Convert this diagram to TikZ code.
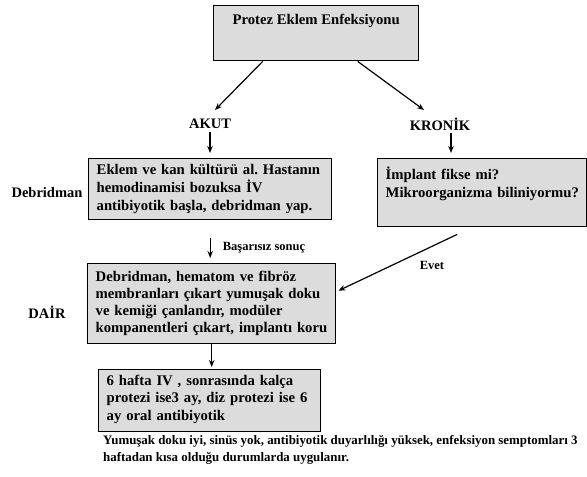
\documentclass[tikz,border=0pt]{standalone}
\usepackage{fontspec}
\setmainfont{Liberation Serif}
\usetikzlibrary{arrows.meta}
\frenchspacing
\definecolor{boxgray}{RGB}{220,220,220}
\newcommand{\boxfont}{\fontsize{14.7}{18}\selectfont\bfseries}
\newcommand{\boxfontb}{\fontsize{14.7}{17}\selectfont\bfseries}
\newcommand{\boxfontc}{\fontsize{14.7}{17.5}\selectfont\bfseries}
\newcommand{\lblfont}{\fontsize{14.5}{18}\selectfont\bfseries}
\newcommand{\smallfont}{\fontsize{12.5}{15}\selectfont\bfseries}
\newcommand{\notefont}{\fontsize{12.9}{17}\selectfont\bfseries}
\begin{document}
\begin{tikzpicture}[x=1pt,y=-1pt,
  box/.style={draw=black, line width=1.4pt, fill=boxgray, anchor=north west,
    inner xsep=8pt, inner ysep=0pt, align=left, font=\boxfont},
  lbl/.style={font=\lblfont, inner sep=3pt},
  small/.style={font=\smallfont, inner sep=2pt},
  arr/.style={line width=1.2pt, -{Stealth[length=7pt,width=5.5pt]}}]
\useasboundingbox (0,0) rectangle (587,477);

% boxes
\node[box, minimum width=205pt, minimum height=55pt, text height=10pt, text depth=27pt] (top) at (213,5) {Protez Eklem Enfeksiyonu};
\node[box, text width=227pt, minimum width=243pt, minimum height=61pt] (b2) at (88,158)
  {Eklem ve kan kültürü al. Hastanın\\hemodinamisi bozuksa İV\\antibiyotik başla, debridman yap.};
\node[box, text width=193pt, minimum width=209pt, minimum height=68pt] (b3) at (377,158)
  {\mbox{İmplant fikse mi?}\\\mbox{Mikroorganizma biliniyormu?}\\[3pt]\mbox{}};
\node[box, font=\boxfontb, text width=232pt, minimum width=248pt, minimum height=80pt] (b4) at (87,263)
  {Debridman, hematom ve fibröz\\membranları çıkart yumuşak doku\\ve kemiği çanlandır, modüler\\kompanentleri çıkart, implantı koru};
\node[box, font=\boxfontc, text width=206pt, minimum width=222pt, minimum height=62pt] (b5) at (98,369)
  {\mbox{}\\[-10pt]6 hafta IV , sonrasında kalça\\protezi ise3 ay, diz protezi ise 6\\ay oral antibiyotik};

% labels
\node[lbl] (akut) at (210,124) {AKUT};
\node[lbl] (kronik) at (440,124) {KRONİK};
\node[lbl] (debr) at (47,193) {Debridman};
\node[lbl] (dair) at (47,312) {DAİR};
\node[small] (bas) at (264,248) {Başarısız sonuç};
\node[small] (evet) at (432,265) {Evet};
\node[anchor=north west, align=left, inner sep=0pt, font=\notefont] (note) at (103,435)
  {Yumuşak doku iyi, sinüs yok, antibiyotik duyarlılığı yüksek, enfeksiyon semptomları 3\\haftadan kısa olduğu durumlarda uygulanır.};

% connectors
\draw[arr] ([xshift=-53.5pt]top.south) -- ([shift={(5,-14)}]akut.center);
\draw[arr] ([xshift=41.5pt]top.south) -- ([shift={(-16,-14)}]kronik.center);
\draw[arr, shorten >=5pt] (akut.south) -- (akut.south |- b2.north);
\draw[arr, shorten >=5pt] ([xshift=11pt]kronik.south) -- ([xshift=11pt]kronik.south |- b3.north);
\draw[arr, shorten <=18pt, shorten >=5pt] (b2.south) -- (b2.south |- b4.north);
\draw[arr, shorten >=2pt] (b4.south) -- (b4.south |- b5.north);
\draw[arr] ([shift={(-25,7)}]b3.south) -- ([shift={(2,-13)}]b4.east);
\end{tikzpicture}
\end{document}
